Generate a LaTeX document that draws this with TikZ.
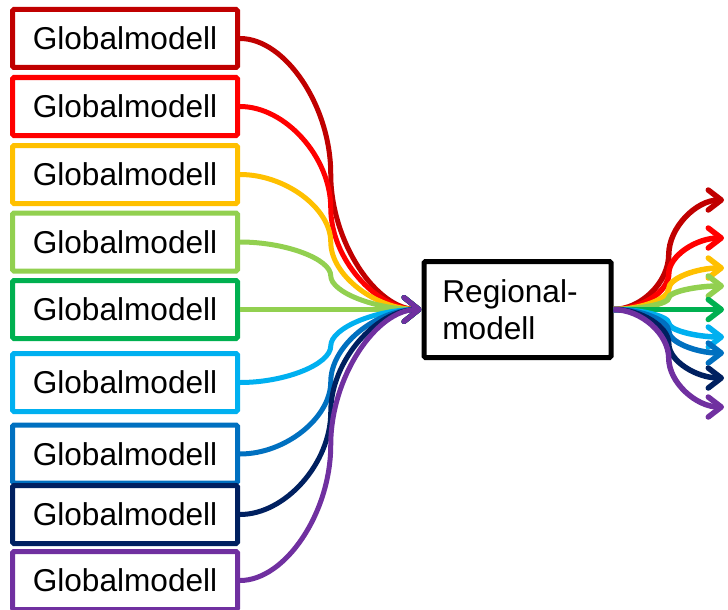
\documentclass[tikz,border=0pt]{standalone}
\usepackage{fontspec}
\setmainfont{Liberation Sans}
\usetikzlibrary{arrows.meta,calc}
\definecolor{cA}{HTML}{C00000}
\definecolor{cB}{HTML}{FF0000}
\definecolor{cC}{HTML}{FFC000}
\definecolor{cD}{HTML}{92D050}
\definecolor{cE}{HTML}{00B050}
\definecolor{cF}{HTML}{00B0F0}
\definecolor{cG}{HTML}{0070C0}
\definecolor{cH}{HTML}{002060}
\definecolor{cI}{HTML}{7030A0}
\newcommand\curveconn[3]{%
  \draw[#3] let \p1=(#1), \p2=(#2) in
    (\p1) .. controls ({\x1+(\x2-\x1)/4},\y1) and ({(\x1+\x2)/2},{\y1+(\y2-\y1)/4})
    .. ({(\x1+\x2)/2},{(\y1+\y2)/2})
    .. controls ({(\x1+\x2)/2},{\y1+3*(\y2-\y1)/4}) and ({\x1+3*(\x2-\x1)/4},\y2) .. (\p2);}
\tikzset{
  gbox/.style={draw=#1, line width=5pt, rounded corners=1.5pt, fill=white,
    minimum width=225pt, minimum height=58pt, inner sep=0pt, text depth=0pt,
    font=\fontsize{31.6}{37}\selectfont},
  rbox/.style={draw=black, line width=5pt, rounded corners=1.5pt, fill=white,
    minimum width=187pt, minimum height=96pt, inner sep=0pt},
  rtext/.style={align=left, inner sep=0pt, font=\fontsize{31.6}{37}\selectfont},
  inconn/.style={draw=#1, line width=5pt, arrows={-Straight Barb[length=15pt,width=24pt,round]}},
  outconn/.style={draw=#1, line width=5.5pt, arrows={-Straight Barb[length=13pt,width=20pt,round]}}
}
\begin{document}
\begin{tikzpicture}[x=1pt,y=-1pt]
\useasboundingbox (0,0) rectangle (728,610);
% global model boxes
\node[gbox=cA] (g1) at (125,38.5) {Globalmodell};
\node[gbox=cB] (g2) at (125,106.5) {Globalmodell};
\node[gbox=cC] (g3) at (125,174.5) {Globalmodell};
\node[gbox=cD] (g4) at (125,242) {Globalmodell};
\node[gbox=cE] (g5) at (125,309.5) {Globalmodell};
\node[gbox=cF] (g6) at (125,382.5) {Globalmodell};
\node[gbox=cG] (g7) at (125,454) {Globalmodell};
\node[gbox=cH] (g8) at (125,514.5) {Globalmodell};
\node[gbox=cI] (g9) at (125,580.5) {Globalmodell};
% regional model
\node[rbox] (reg) at (517.5,309.5) {};
\node[rtext] (regtxt) at (510,310) {Regional-\\modell};
% output end points
\coordinate (o1) at (724,200);
\coordinate (o2) at (724,238);
\coordinate (o3) at (724,268);
\coordinate (o4) at (724,286);
\coordinate (o5) at (724,309.5);
\coordinate (o6) at (724,337);
\coordinate (o7) at (724,353);
\coordinate (o8) at (724,378);
\coordinate (o9) at (724,407);
% input connectors
\curveconn{g1.east}{reg.west}{inconn=cA}
\curveconn{g2.east}{reg.west}{inconn=cB}
\curveconn{g3.east}{reg.west}{inconn=cC}
\curveconn{g4.east}{reg.west}{inconn=cD}
\curveconn{g5.east}{reg.west}{inconn=cD}
\curveconn{g6.east}{reg.west}{inconn=cF}
\curveconn{g7.east}{reg.west}{inconn=cG}
\curveconn{g8.east}{reg.west}{inconn=cH}
\curveconn{g9.east}{reg.west}{inconn=cI}
% output connectors
\curveconn{reg.east}{o1}{outconn=cA}
\curveconn{reg.east}{o2}{outconn=cB}
\curveconn{reg.east}{o3}{outconn=cC}
\curveconn{reg.east}{o4}{outconn=cD}
\curveconn{reg.east}{o5}{outconn=cE}
\curveconn{reg.east}{o6}{outconn=cF}
\curveconn{reg.east}{o7}{outconn=cG}
\curveconn{reg.east}{o8}{outconn=cH}
\curveconn{reg.east}{o9}{outconn=cI}
\end{tikzpicture}
\end{document}
